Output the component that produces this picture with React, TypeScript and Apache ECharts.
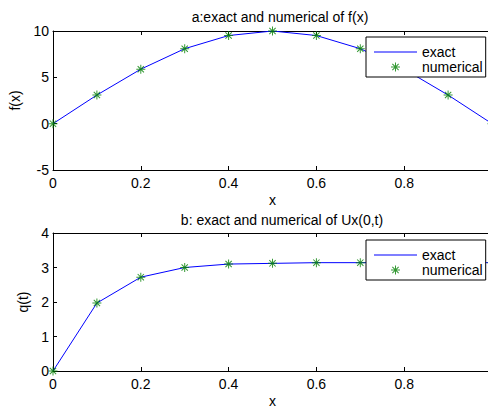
import React, { useEffect, useRef } from "react";
import * as echarts from "echarts";

const xValues = [0, 0.1, 0.2, 0.3, 0.4, 0.5, 0.6, 0.7, 0.8, 0.9, 1.0];
const fExact = [0, 3.09, 5.88, 8.09, 9.51, 10, 9.51, 8.09, 5.88, 3.09, 0];
const fNumerical = [0, 3.09, 5.88, 8.09, 9.51, 10, 9.51, 8.09, 5.88, 3.09, 0];
const qExact = [0, 1.97, 2.72, 3.0, 3.1, 3.12, 3.14, 3.14, 3.14, 3.14, 3.14];
const qNumerical = [0, 1.97, 2.72, 3.0, 3.1, 3.12, 3.14, 3.14, 3.14, 3.14, 3.14];

const titleA = "a:exact and numerical of f(x)";
const titleB = "b: exact and numerical of Ux(0,t)";

const FONT = "'Liberation Sans', Arial, Helvetica, sans-serif";
const STAR =
  "path://M4.45,0L5.55,0L5.55,10L4.45,10ZM0,4.45L10,4.45L10,5.55L0,5.55ZM1.11,1.89L1.89,1.11L8.89,8.11L8.11,8.89ZM8.11,1.11L8.89,1.89L1.89,8.89L1.11,8.11Z";
const LINE_ICON = "path://M0,0L43,0L43,1L0,1Z";

function pairs(xs: number[], ys: number[]) {
  return xs.map((x, i) => [x, ys[i]]);
}

export default function App() {
  const ref = useRef<HTMLDivElement>(null);
  useEffect(() => {
    if (!ref.current) return;
    const chart = echarts.init(ref.current, undefined, { renderer: "svg" });
    const grids = [
      { left: 53, top: 31, width: 439, height: 139 },
      { left: 53, top: 233, width: 439, height: 140 },
    ];
    const labelStyle = { color: "#000", fontSize: 14, fontFamily: FONT };
    const axisLine = { show: true, onZero: false, lineStyle: { color: "#000", width: 1 } };
    const tick = { show: true, inside: true, length: 4, lineStyle: { color: "#000" } };

    const xAxes: any[] = [];
    const yAxes: any[] = [];
    [0, 1].forEach((g) => {
      xAxes.push({
        type: "value",
        gridIndex: g,
        position: "bottom",
        min: 0,
        max: 1,
        interval: 0.2,
        axisLine,
        axisTick: tick,
        splitLine: { show: false },
        axisLabel: { ...labelStyle, margin: 6, showMaxLabel: false },
        name: "x",
        nameLocation: "middle",
        nameGap: 23,
        nameTextStyle: labelStyle,
      });
      xAxes.push({
        type: "value",
        gridIndex: g,
        position: "top",
        min: 0,
        max: 1,
        interval: 0.2,
        axisLine,
        axisTick: tick,
        splitLine: { show: false },
        axisLabel: { show: false },
      });
      const yr = g === 0 ? { min: -5, max: 10, interval: 5 } : { min: 0, max: 4, interval: 1 };
      yAxes.push({
        type: "value",
        gridIndex: g,
        position: "left",
        ...yr,
        axisLine,
        axisTick: tick,
        splitLine: { show: false },
        axisLabel: { ...labelStyle, margin: 4 },
        name: g === 0 ? "f(x)" : "q(t)",
        nameLocation: "middle",
        nameGap: g === 0 ? 31 : 16,
        nameTextStyle: labelStyle,
      });
      yAxes.push({
        type: "value",
        gridIndex: g,
        position: "right",
        ...yr,
        axisLine,
        axisTick: tick,
        splitLine: { show: false },
        axisLabel: { show: false },
      });
    });

    const legendBase = {
      orient: "vertical",
      left: 366,
      padding: [8, 3, 3, 8],
      itemGap: 1,
      itemWidth: 43,
      itemHeight: 9,
      borderColor: "#000",
      borderWidth: 1,
      borderRadius: 0,
      backgroundColor: "#fff",
      selectedMode: false,
      textStyle: labelStyle,
      data: [
        { name: "exact", icon: LINE_ICON, itemStyle: { color: "#0000ff" } },
        { name: "numerical", icon: STAR, itemStyle: { color: "#008000" } },
      ],
    };

    chart.setOption({
      animation: false,
      backgroundColor: "#fff",
      title: [
        {
          text: titleA,
          left: 275,
          top: 5,
          textAlign: "center",
          textStyle: { ...labelStyle, fontWeight: "normal" },
        },
        {
          text: titleB,
          left: 277,
          top: 208,
          textAlign: "center",
          textStyle: { ...labelStyle, fontWeight: "normal" },
        },
      ],
      grid: grids,
      xAxis: xAxes,
      yAxis: yAxes,
      legend: [
        { ...legendBase, top: 37 },
        { ...legendBase, top: 240 },
      ],
      series: [
        {
          name: "exact",
          type: "line",
          xAxisIndex: 0,
          yAxisIndex: 0,
          data: pairs(xValues, fExact),
          symbol: "none",
          lineStyle: { color: "#0000ff", width: 1 },
          itemStyle: { color: "#0000ff" },
        },
        {
          name: "numerical",
          type: "scatter",
          xAxisIndex: 0,
          yAxisIndex: 0,
          data: pairs(xValues, fNumerical),
          symbol: STAR,
          symbolSize: 9,
          itemStyle: { color: "#008000" },
          z: 3,
        },
        {
          name: "exact",
          type: "line",
          xAxisIndex: 2,
          yAxisIndex: 2,
          data: pairs(xValues, qExact),
          symbol: "none",
          lineStyle: { color: "#0000ff", width: 1 },
          itemStyle: { color: "#0000ff" },
        },
        {
          name: "numerical",
          type: "scatter",
          xAxisIndex: 2,
          yAxisIndex: 2,
          data: pairs(xValues, qNumerical),
          symbol: STAR,
          symbolSize: 9,
          itemStyle: { color: "#008000" },
          z: 3,
        },
      ],
    });
    return () => chart.dispose();
  }, []);
  return (
    <div
      style={{
        position: "fixed",
        left: 0,
        top: 0,
        width: 488,
        height: 409,
        overflow: "hidden",
        background: "#fff",
      }}
    >
      <div ref={ref} style={{ width: 500, height: 409 }} />
    </div>
  );
}
